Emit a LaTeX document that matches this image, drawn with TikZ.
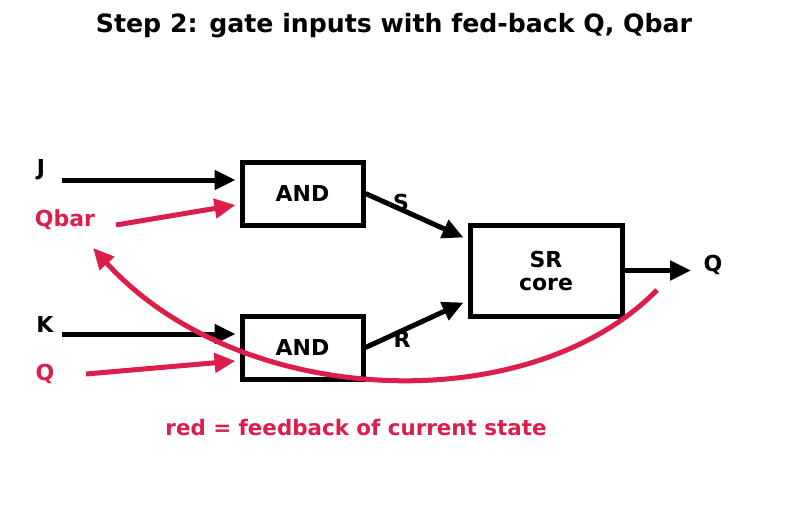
\documentclass[tikz,border=0pt]{standalone}
\usepackage{fontspec}
\setmainfont{DejaVu Sans}
\usetikzlibrary{arrows.meta}
\definecolor{fbred}{HTML}{DC1E4A}
\begin{document}
\begin{tikzpicture}[x=1pt,y=-1pt,
  gatebox/.style={draw, line width=5pt, minimum width=121pt, minimum height=63pt, font=\fontsize{22}{26}\selectfont\bfseries},
  lbl/.style={font=\fontsize{22}{26}\selectfont\bfseries},
  wire/.style={line width=5pt, -{Triangle[length=21pt,width=19pt]}},
  fb/.style={wire, fbred}]

\useasboundingbox (0,0) rectangle (787,511);

\node[lbl] (title) at (394,26) {\fontsize{25.2}{30}\selectfont Step 2: gate inputs with fed-back Q, Qbar};

\node[gatebox] (and1) at (302.5,193.5) {AND};
\node[gatebox] (and2) at (302.5,347.5) {AND};
\node[gatebox, minimum width=152pt, minimum height=91pt, align=center] (sr) at (546,270.5) {SR\\[-3pt]core};

% inputs
\node[lbl] (j) at (41,170) {J};
\node[lbl, fbred] (qbar) at (65,220) {Qbar};
\node[lbl] (k) at (45,324) {K};
\node[lbl, fbred] (qin) at (45,374) {Q};
\coordinate (js) at (62,180);
\coordinate (qbs) at (116,225);
\coordinate (ks) at (62,334);
\coordinate (qs) at (86,374);

\draw[wire] (js) -- ([xshift=-4pt,yshift=13.5pt]and1.west);
\draw[fb] (qbs) -- ([xshift=-4pt,yshift=-11.5pt]and1.west);
\draw[wire] (ks) -- ([xshift=-4pt,yshift=13.5pt]and2.west);
\draw[fb] (qs) -- ([xshift=-4pt,yshift=-13.5pt]and2.west);

% S and R
\draw[wire] (and1.east) -- ([xshift=-4pt,yshift=-15pt]sr.north west);
\draw[wire] (and2.east) -- ([xshift=-4pt,yshift=16pt]sr.south west);
\node[lbl] (s) at (401,202) {S};
\node[lbl] (r) at (402,339) {R};

% output
\node[lbl] (qout) at (713,265) {Q};
\draw[wire] (sr.east) -- ([xshift=-9pt,yshift=-5.5pt]qout.west);

% feedback curve
\coordinate (fbs) at (657,290);
\coordinate (fbe) at (93,248);
\draw[fb] (fbs) .. controls (530,420) and (240,410) .. (fbe);

\node[lbl, fbred] (note) at (356,428) {\fontsize{21.4}{26}\selectfont red = feedback of current state};

\end{tikzpicture}
\end{document}
